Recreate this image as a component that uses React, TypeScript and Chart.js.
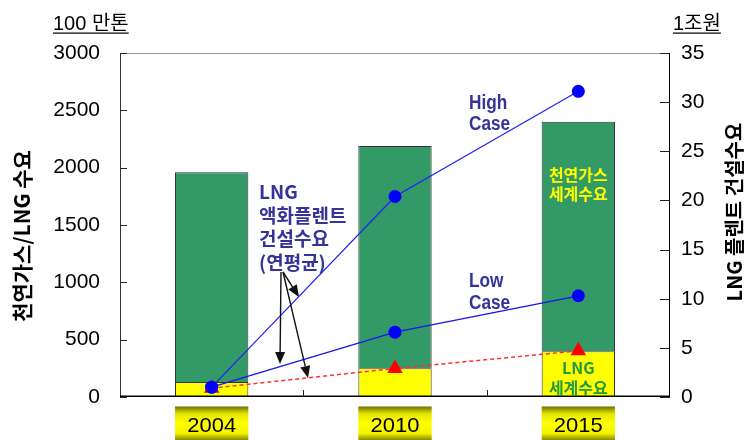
import React, { useEffect, useRef } from "react";
import { Chart, registerables } from "chart.js";

Chart.register(...registerables);

// ---- data ----
const years = ["2004", "2010", "2015"];
const gasDemandTotal = [1960, 2190, 2400]; // 천연가스 세계수요 (100만톤)
const lngDemand = [130, 250, 400]; // LNG 세계수요 (100만톤)
const highCase = [1.0, 20.4, 31.1]; // LNG 플렌트 건설수요 High Case (1조원)
const lowCase = [1.0, 6.6, 10.3]; // Low Case (1조원)
const plantAverage = [0.9, 2.9, 4.7]; // 연평균 (1조원)
const leftMax = 3000;
const leftStep = 500;
const rightMax = 35;
const rightStep = 5;

const KR = '"Noto Sans CJK KR", "Liberation Sans", sans-serif';
const LAT = '"Liberation Sans", "Noto Sans CJK KR", sans-serif';

function drawArrow(ctx: CanvasRenderingContext2D, x1: number, y1: number, x2: number, y2: number) {
  const a = Math.atan2(y2 - y1, x2 - x1);
  const len = 12;
  const hw = 5;
  const bx = x2 - Math.cos(a) * len;
  const by = y2 - Math.sin(a) * len;
  ctx.beginPath();
  ctx.moveTo(x1, y1);
  ctx.lineTo(bx, by);
  ctx.stroke();
  ctx.beginPath();
  ctx.moveTo(x2, y2);
  ctx.lineTo(bx + Math.sin(a) * hw, by - Math.cos(a) * hw);
  ctx.lineTo(bx - Math.sin(a) * hw, by + Math.cos(a) * hw);
  ctx.closePath();
  ctx.fill();
}

function condensedText(ctx: CanvasRenderingContext2D, text: string, x: number, y: number, sx: number) {
  ctx.save();
  ctx.translate(x, y);
  ctx.scale(sx, 1);
  ctx.fillText(text, 0, 0);
  ctx.restore();
}

const overlayPlugin = {
  id: "overlay",
  afterDatasetsDraw(chart: any) {
    const ctx: CanvasRenderingContext2D = chart.ctx;
    const { left, right, top, bottom } = chart.chartArea;
    const xs = chart.scales.x;
    const ys = chart.scales.y;
    const yr = chart.scales.y1;
    ctx.save();

    // frame
    ctx.lineWidth = 1;
    ctx.strokeStyle = "#9a9a9a";
    ctx.beginPath();
    ctx.moveTo(left, top + 0.5);
    ctx.lineTo(right, top + 0.5);
    ctx.stroke();
    ctx.strokeStyle = "#333";
    ctx.beginPath();
    ctx.moveTo(left + 0.5, top);
    ctx.lineTo(left + 0.5, bottom);
    ctx.stroke();
    ctx.strokeStyle = "#000";
    ctx.beginPath();
    ctx.moveTo(right - 0.5, top);
    ctx.lineTo(right - 0.5, bottom);
    ctx.stroke();
    ctx.lineWidth = 1.6;
    ctx.beginPath();
    ctx.moveTo(left, bottom - 0.8);
    ctx.lineTo(right, bottom - 0.8);
    ctx.stroke();

    // inward ticks
    ctx.lineWidth = 1;
    ctx.strokeStyle = "#222";
    for (let v = 0; v <= leftMax; v += leftStep) {
      const y = Math.round(ys.getPixelForValue(v)) + 0.5;
      ctx.beginPath();
      ctx.moveTo(left, y);
      ctx.lineTo(left + 7, y);
      ctx.stroke();
    }
    for (let v = 0; v <= rightMax; v += rightStep) {
      const y = Math.round(yr.getPixelForValue(v)) + 0.5;
      ctx.beginPath();
      ctx.moveTo(right - 10, y);
      ctx.lineTo(right, y);
      ctx.stroke();
    }
    for (let i = 0; i < years.length - 1; i++) {
      const x = Math.round((xs.getPixelForValue(i) + xs.getPixelForValue(i + 1)) / 2) + 0.5;
      ctx.beginPath();
      ctx.moveTo(x, bottom - 7);
      ctx.lineTo(x, bottom);
      ctx.stroke();
    }

    // category label boxes
    const bw = ((right - left) / years.length) * 0.4;
    years.forEach((yr0, i) => {
      const cx = xs.getPixelForValue(i);
      const bx = cx - bw / 2;
      const by = 406.5;
      const bh = 440 - by;
      const g = ctx.createLinearGradient(0, by, 0, by + bh);
      g.addColorStop(0, "#6f6f00");
      g.addColorStop(0.22, "#e6e600");
      g.addColorStop(0.5, "#ffff00");
      g.addColorStop(0.8, "#f2f200");
      g.addColorStop(1, "#8a8a00");
      ctx.fillStyle = g;
      ctx.fillRect(bx, by, bw, bh);
      ctx.fillStyle = "#000";
      ctx.font = `22px ${LAT}`;
      ctx.textAlign = "center";
      ctx.textBaseline = "middle";
      ctx.save();
      ctx.translate(cx, 427);
      ctx.scale(1.0, 0.88);
      ctx.fillText(yr0, 0, 0);
      ctx.restore();
    });

    // unit labels
    ctx.fillStyle = "#000";
    ctx.textAlign = "left";
    ctx.textBaseline = "alphabetic";
    ctx.font = `20px ${LAT}`;
    const u1 = "100 만톤";
    ctx.fillText(u1, 53, 30);
    const w1 = ctx.measureText(u1).width;
    ctx.fillRect(53, 32.5, w1, 1.2);
    const u2 = "1조원";
    ctx.fillText(u2, 673, 30);
    const w2 = ctx.measureText(u2).width;
    ctx.fillRect(673, 32.5, w2, 1.2);

    // axis titles
    ctx.font = `bold 21px ${KR}`;
    ctx.textAlign = "center";
    ctx.textBaseline = "middle";
    ctx.save();
    ctx.translate(22, 236);
    ctx.rotate(-Math.PI / 2);
    ctx.fillText("천연가스/LNG 수요", 0, 0);
    ctx.restore();
    ctx.font = `bold 20px ${KR}`;
    ctx.save();
    ctx.translate(734, 212);
    ctx.rotate(-Math.PI / 2);
    ctx.fillText("LNG 플렌트 건설수요", 0, 0);
    ctx.restore();

    // annotation texts
    ctx.fillStyle = "#333399";
    ctx.textAlign = "left";
    ctx.textBaseline = "middle";
    ctx.font = `bold 19px ${KR}`;
    const ann = ["LNG", "액화플렌트", "건설수요", "(연평균)"];
    ann.forEach((t, i) => ctx.fillText(t, 259, 192 + i * 23.5));

    ctx.font = `bold 20px ${LAT}`;
    ctx.textBaseline = "alphabetic";
    condensedText(ctx, "High", 469, 109, 0.86);
    condensedText(ctx, "Case", 469, 130, 0.86);
    condensedText(ctx, "Low", 469, 287, 0.86);
    condensedText(ctx, "Case", 469, 309, 0.86);

    // labels inside 2015 bar
    const c2 = xs.getPixelForValue(2);
    ctx.textAlign = "center";
    ctx.textBaseline = "middle";
    ctx.font = `bold 16px ${KR}`;
    ctx.fillStyle = "#ffff00";
    ctx.fillText("천연가스", c2, 175);
    ctx.fillText("세계수요", c2, 194);
    ctx.fillStyle = "#1f9a3c";
    ctx.fillText("LNG", c2, 368);
    ctx.fillText("세계수요", c2, 388);

    // arrows
    ctx.strokeStyle = "#111";
    ctx.fillStyle = "#111";
    ctx.lineWidth = 1.4;
    drawArrow(ctx, 281, 272, 280, 364);
    drawArrow(ctx, 283, 272, 308, 378);
    drawArrow(ctx, 283, 272, 299, 297);

    ctx.restore();
  },
};

export default function App() {
  const ref = useRef<HTMLCanvasElement | null>(null);

  useEffect(() => {
    if (!ref.current) return;
    const gasOnly = gasDemandTotal.map((v, i) => v - lngDemand[i]);
    const chart = new Chart(ref.current, {
      type: "bar",
      data: {
        labels: years,
        datasets: [
          {
            type: "line",
            label: "High Case",
            data: highCase,
            yAxisID: "y1",
            borderColor: "#2020ff",
            borderWidth: 1.2,
            pointRadius: 6.5,
            pointBackgroundColor: "#0000ff",
            pointBorderWidth: 0,
            tension: 0,
            order: 0,
          },
          {
            type: "line",
            label: "Low Case",
            data: lowCase,
            yAxisID: "y1",
            borderColor: "#1515ee",
            borderWidth: 1.3,
            pointRadius: 6.5,
            pointBackgroundColor: "#0000ff",
            pointBorderWidth: 0,
            tension: 0,
            order: 0,
          },
          {
            type: "line",
            label: "연평균",
            data: plantAverage,
            yAxisID: "y1",
            borderColor: "#ff3030",
            borderWidth: 1.5,
            borderDash: [4, 3],
            pointStyle: "triangle",
            pointRadius: 9,
            pointBackgroundColor: "#ff0000",
            pointBorderWidth: 0,
            tension: 0,
            order: 1,
          },
          {
            type: "bar",
            label: "LNG 세계수요",
            data: lngDemand,
            yAxisID: "y",
            backgroundColor: "#ffff00",
            borderColor: "#333333",
            borderWidth: 1,
            barPercentage: 0.4,
            categoryPercentage: 1.0,
            stack: "s",
            order: 2,
          },
          {
            type: "bar",
            label: "천연가스 세계수요",
            data: gasOnly,
            yAxisID: "y",
            backgroundColor: "#339966",
            borderColor: "#333333",
            borderWidth: 1,
            barPercentage: 0.4,
            categoryPercentage: 1.0,
            stack: "s",
            order: 2,
          },
        ],
      },
      options: {
        responsive: false,
        animation: false,
        layout: { padding: { top: 53, left: 0, right: 0, bottom: 0 } },
        plugins: {
          legend: { display: false },
          tooltip: { enabled: false },
          title: { display: false },
        },
        scales: {
          x: {
            stacked: true,
            grid: { display: false, drawTicks: false },
            border: { display: false },
            ticks: { display: false },
            afterFit: (s: any) => {
              s.height = 43;
            },
          },
          y: {
            position: "left",
            stacked: true,
            min: 0,
            max: leftMax,
            grid: { display: false, drawTicks: false },
            border: { display: false },
            ticks: {
              stepSize: leftStep,
              padding: 20,
              color: "#000",
              font: { family: LAT, size: 21 },
              callback: (v: any) => String(v),
            },
            afterFit: (s: any) => {
              s.width = 120;
            },
          },
          y1: {
            position: "right",
            min: 0,
            max: rightMax,
            grid: { display: false, drawTicks: false },
            border: { display: false },
            ticks: {
              stepSize: rightStep,
              padding: 11,
              color: "#000",
              font: { family: LAT, size: 21 },
              callback: (v: any) => String(v),
            },
            afterFit: (s: any) => {
              s.width = 75;
            },
          },
        },
      },
      plugins: [overlayPlugin],
    } as any);
    return () => chart.destroy();
  }, []);

  return (
    <div style={{ position: "fixed", left: 0, top: 0, width: 745, height: 440, background: "#fff" }}>
      <canvas ref={ref} width={745} height={440} style={{ width: 745, height: 440, display: "block" }} />
    </div>
  );
}
